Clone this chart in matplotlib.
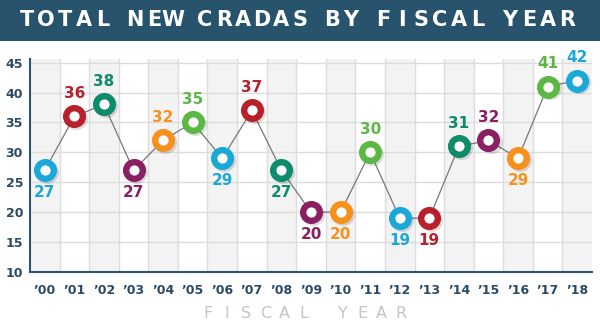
import matplotlib.pyplot as plt
from matplotlib.patches import Rectangle

# data
years = ['00', '01', '02', '03', '04', '05', '06', '07', '08', '09',
         '10', '11', '12', '13', '14', '15', '16', '17', '18']
cradas = [27, 36, 38, 27, 32, 35, 29, 37, 27, 20, 20, 30, 19, 19, 31, 32, 29, 41, 42]
label_above = [False, True, True, False, True, True, False, True, False, False,
               False, True, False, False, True, True, False, True, True]

palette = ['#1aa8d8', '#b8212b', '#0d8b6a', '#8a1f62', '#f7911c', '#5cb845']
navy = '#2b4a64'

W, H = 600, 328
fig = plt.figure(figsize=(6, 3.28), dpi=100)


def spaced_text(words, x0, y, pitch, gap, **kw):
    # place letters one by one to get wide letter spacing
    x = x0
    for wi, w in enumerate(words):
        if wi:
            x += gap - pitch
        for ch in w:
            fig.text(x / W, 1 - y / H, ch, ha='center', va='center', **kw)
            x += pitch


# title banner
fig.patches.append(Rectangle((0, 1 - 41 / H), 1, 41 / H, transform=fig.transFigure,
                             facecolor='#28536d', edgecolor='none', zorder=0))
spaced_text('TOTAL NEW CRADAS BY FISCAL YEAR'.split(), 27, 20, 19, 32,
            color='white', fontsize=15, fontweight='bold')

ax = fig.add_axes([30 / W, 56 / H, 562 / W, 213 / H])
n = len(years)
x = list(range(n))

# alternating column shading
for i in x:
    if i % 2 == 0:
        ax.axvspan(i - 0.5, i + 0.5, color='#f3f3f3', zorder=0, lw=0)
for i in range(n - 1):
    ax.axvline(i + 0.5, color='#dcdcdc', lw=1, zorder=1)
for v in range(15, 50, 5):
    ax.axhline(v, color='#dcdcdc', lw=1, zorder=1)

ax.plot(x, cradas, color='#777777', lw=0.9, zorder=2)

for i, v in enumerate(cradas):
    c = palette[i % len(palette)]
    # soft shadow
    ax.plot(i + 0.07, v - 0.3, 'o', ms=12, mfc='none', mec='#00000022', mew=4.6, zorder=3)
    ax.plot(i, v, 'o', ms=12, mfc='white', mec=c, mew=4.6, zorder=4)
    if label_above[i]:
        ax.annotate(str(v), (i, v), xytext=(0, 11), textcoords='offset points',
                    ha='center', va='bottom', color=c, fontsize=11, fontweight='bold')
    else:
        ax.annotate(str(v), (i, v), xytext=(0, -10.5), textcoords='offset points',
                    ha='center', va='top', color=c, fontsize=11, fontweight='bold')

ax.set_xlim(-0.5, n - 0.5)
ax.set_ylim(10, 45.6)
ax.set_yticks(range(10, 50, 5))
ax.set_xticks(x)
ax.set_xticklabels(['\u2019' + y for y in years])
ax.tick_params(axis='both', length=0, colors=navy, labelsize=9)
for lab in ax.get_xticklabels() + ax.get_yticklabels():
    lab.set_fontweight('bold')
ax.tick_params(axis='x', pad=9)
ax.tick_params(axis='y', pad=5)

for s in ['top', 'right']:
    ax.spines[s].set_visible(False)
for s in ['left', 'bottom']:
    ax.spines[s].set_color('#2b5570')
    ax.spines[s].set_linewidth(1.5)

spaced_text(['FISCAL', 'YEAR'], 208, 313, 19.2, 39, color='#c4c4c4', fontsize=11.5)

fig.savefig('out.png', dpi=100)
